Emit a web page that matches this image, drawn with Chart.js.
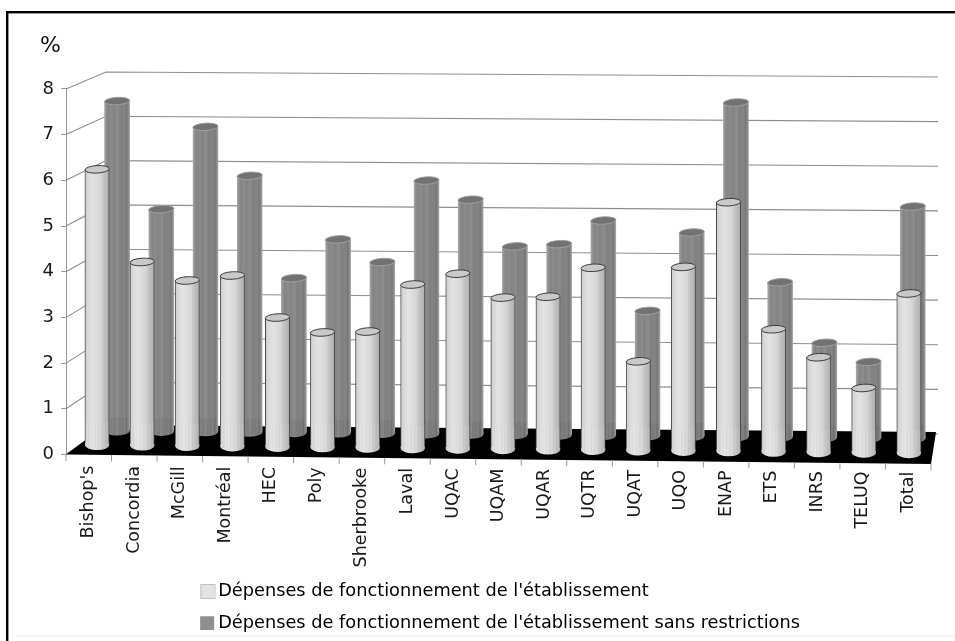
<!DOCTYPE html>
<html><head><meta charset="utf-8">
<style>html,body{margin:0;padding:0;background:#fff}canvas{display:block}</style>
<script src="https://cdn.jsdelivr.net/npm/chart.js@4"></script>
</head><body><canvas id="c" width="955" height="641"></canvas>
<script>
const categories = ["Bishop's","Concordia","McGill","Montréal","HEC","Poly","Sherbrooke","Laval","UQAC","UQAM","UQAR","UQTR","UQAT","UQO","ENAP","ETS","INRS","TELUQ","Total"];
const depensesFonctionnement = [6.11,4.07,3.67,3.79,2.87,2.55,2.58,3.63,3.88,3.36,3.39,4.04,1.98,4.08,5.52,2.72,2.11,1.44,3.54];
const depensesSansRestrictions = [7.41,4.99,6.85,5.76,3.47,4.35,3.85,5.69,5.27,4.23,4.29,4.83,2.81,4.58,7.51,3.48,2.13,1.71,5.21];
const seriesNames = ["Dépenses de fonctionnement de l'établissement","Dépenses de fonctionnement de l'établissement sans restrictions"];
const yTicks = [0,1,2,3,4,5,6,7,8];
const FONT = '"DejaVu Sans", Verdana, sans-serif';

// projection of each series' plane: x'=a*x+e, y'=d*y+b*x+f
const planes = [
  {a:.9907,e:9.1,d:.989,b:.0098,f:-4.9,w:24.5,capFill:'#c9c9c9',capLine:'#3a3a3a',ry:3.8,band:23},
  {a:.971,e:30.9,d:.974,b:.0092,f:-12.6,w:26,capFill:'#727272',capLine:'#a0a0a0',ry:3.8,band:13}
];
const stops = [
  [[0,'#cccccc'],[.12,'#d8d8d8'],[.3,'#e3e3e3'],[.5,'#dcdcdc'],[.68,'#d2d2d2'],[.72,'#c8c8c8'],[.85,'#bcbcbc'],[1,'#acacac']],
  [[0,'#a0a0a0'],[.08,'#8f8f8f'],[.14,'#848484'],[.3,'#8c8c8c'],[.34,'#828282'],[.55,'#8d8d8d'],[.6,'#808080'],[.8,'#848484'],[.88,'#787878'],[1,'#989898']]
];
function barFill(i){
  return function(ctx){
    const chart = ctx.chart, sx = chart.scales.x;
    if(!sx || ctx.dataIndex===undefined) return i? '#808080':'#e0e0e0';
    const cx = sx.getPixelForValue(ctx.dataIndex), w = planes[i].w;
    const g = chart.ctx.createLinearGradient(cx-w/2,0,cx+w/2,0);
    stops[i].forEach(s=>g.addColorStop(s[0],s[1]));
    return g;
  };
}
const done = new WeakSet();
const scene = {
  id:'scene',
  beforeDraw(chart){
    const c = chart.ctx, W = chart.width, H = chart.height;
    c.save();
    c.fillStyle='#000';
    c.fillRect(6,11,W-6,2.4);
    c.fillRect(6,11,2.4,H-11);
    c.fillStyle='#eeeeee';
    c.fillRect(16,635.5,W-16,1);
    c.restore();
    const sx = chart.scales.x, items = sx.getLabelItems();
    if(!done.has(items)){
      done.add(items);
      items.forEach(it=>{
        const t = it.options.translation;
        t[1] += (t[0]-sx.left)*.0075;
      });
    }
  },
  beforeDatasetsDraw(chart){
    const c = chart.ctx, sy = chart.scales.y, sx = chart.scales.x;
    const L = sx.left, B = sy.getPixelForValue(0);
    c.save();
    yTicks.forEach(v=>{
      const y = sy.getPixelForValue(v), t = (B-y)/(B-sy.getPixelForValue(8));
      const by = 426.4-(426.4-72)*t, ry = 434-(434-77)*t;
      c.strokeStyle='#8f8f8f'; c.lineWidth=1.1;
      c.beginPath(); c.moveTo(L,y); c.lineTo(106,by); c.lineTo(938,ry); c.stroke();
    });
    c.fillStyle='#000';
    c.beginPath(); c.moveTo(L,B); c.lineTo(106,425); c.lineTo(936,432); c.lineTo(sx.right,464); c.closePath(); c.fill();
    c.strokeStyle='#999'; c.lineWidth=1;
    for(let i=0;i<=categories.length;i++){
      const x = sx.getPixelForValue(i-.5), y = B+(x-L)*.0104;
      c.beginPath(); c.moveTo(x,y); c.lineTo(x,y+6.5); c.stroke();
    }
    c.restore();
  },
  beforeDatasetDraw(chart,args){
    const p = planes[args.index], c = chart.ctx;
    c.save();
    c.transform(p.a,p.b,0,p.d,p.e,p.f);
  },
  afterDatasetDraw(chart,args){
    const i = args.index, p = planes[i], c = chart.ctx, meta = chart.getDatasetMeta(i);
    const rot = -.07;
    meta.data.forEach((el,k)=>{
      const rx = p.w/2, base = el.base;
      const g = c.createLinearGradient(el.x-rx,0,el.x+rx,0);
      stops[i].forEach(s=>g.addColorStop(s[0],s[1]));
      // foot of the cylinder, covering the square end of the bar
      c.fillStyle = g;
      c.beginPath(); c.rect(el.x-rx,base-1.5,p.w,1.5); c.ellipse(el.x,base,rx,5.2,0,0,Math.PI); c.fill();
      // lighter striped band over the lower part, foot included
      const bandH = Math.min(p.band, base-el.y);
      c.fillStyle = i? 'rgba(60,60,60,.06)':'rgba(255,255,255,.1)';
      c.beginPath();
      c.moveTo(el.x-rx+.5,base-bandH); c.lineTo(el.x+rx-.5,base-bandH); c.lineTo(el.x+rx-.5,base);
      c.ellipse(el.x,base,rx-.5,5.2,0,0,Math.PI); c.closePath(); c.fill();
      c.strokeStyle = i? 'rgba(40,40,40,.1)':'rgba(120,120,120,.1)'; c.lineWidth=.8;
      for(let s=1;s<7;s++){ const sxp = el.x-rx+s*p.w/7; c.beginPath(); c.moveTo(sxp,base-bandH); c.lineTo(sxp,base+3.5); c.stroke(); }
      c.fillStyle = p.capFill; c.strokeStyle = p.capLine; c.lineWidth = 1;
      c.beginPath(); c.ellipse(el.x,el.y,rx,p.ry,rot,0,Math.PI*2); c.fill(); c.stroke();
    });
    c.restore();
  },
  afterDraw(chart){
    const c = chart.ctx, b = chart.legend.legendHitBoxes[0];
    c.save(); c.strokeStyle='#c2c2c2'; c.lineWidth=1;
    c.strokeRect(b.left-4,b.top+2,14,14);
    c.restore();
  },
  afterLayout(chart){
    chart.legend.left = 191;
    chart.legend.top += 3;
    chart.scales.x.bottom += 30; // room for the long rotated labels
  }
};
Chart.defaults.font.family = FONT;
new Chart(document.getElementById('c'),{
  type:'bar',
  plugins:[scene],
  data:{labels:categories,datasets:[
    {label:seriesNames[0],data:depensesFonctionnement,grouped:false,barThickness:planes[0].w,
     backgroundColor:barFill(0),borderColor:'#4a4a4a',borderWidth:{left:1,right:1,top:0,bottom:0},borderSkipped:false,clip:false},
    {label:seriesNames[1],data:depensesSansRestrictions,grouped:false,barThickness:planes[1].w,
     backgroundColor:barFill(1),borderColor:'#a8a8a8',borderWidth:{left:1,right:1,top:0,bottom:0},borderSkipped:false,clip:false}
  ]},
  options:{
    responsive:false,animation:false,devicePixelRatio:1,
    layout:{padding:{left:40,right:24,top:33,bottom:2}},
    plugins:{
      tooltip:{enabled:false},
      title:{display:true,text:'%',align:'start',color:'#111',font:{size:22,weight:'normal',family:FONT},padding:{top:0,bottom:29.5}},
      legend:{position:'bottom',align:'start',
        labels:{font:{size:17.75,family:FONT},color:'#222',boxWidth:4.3,boxHeight:4.3,padding:14,
          generateLabels(chart){
            return chart.data.datasets.map((d,i)=>({text:d.label,datasetIndex:i,
              fillStyle:i?'#8f8f8f':'#e4e4e4',strokeStyle:i?'#8f8f8f':'#e4e4e4',lineWidth:9.7,hidden:false}));
          }}}
    },
    scales:{
      x:{type:'category',offset:true,grid:{display:false},border:{display:false},
        afterFit(s){s.height=111;},
        ticks:{autoSkip:false,minRotation:90,maxRotation:90,padding:3,color:'#1a1a1a',font:{size:17.5,family:FONT}}},
      y:{type:'linear',min:0,max:8,
        afterFit(s){s.width=26;},
        grid:{drawOnChartArea:false,color:'#999',tickLength:5},border:{color:'#999'},
        afterBuildTicks(s){s.ticks=yTicks.map(v=>({value:v}));},
        ticks:{stepSize:1,padding:7,color:'#1a1a1a',font:{size:18,family:FONT}}}
    }
  }
});
</script></body></html>
